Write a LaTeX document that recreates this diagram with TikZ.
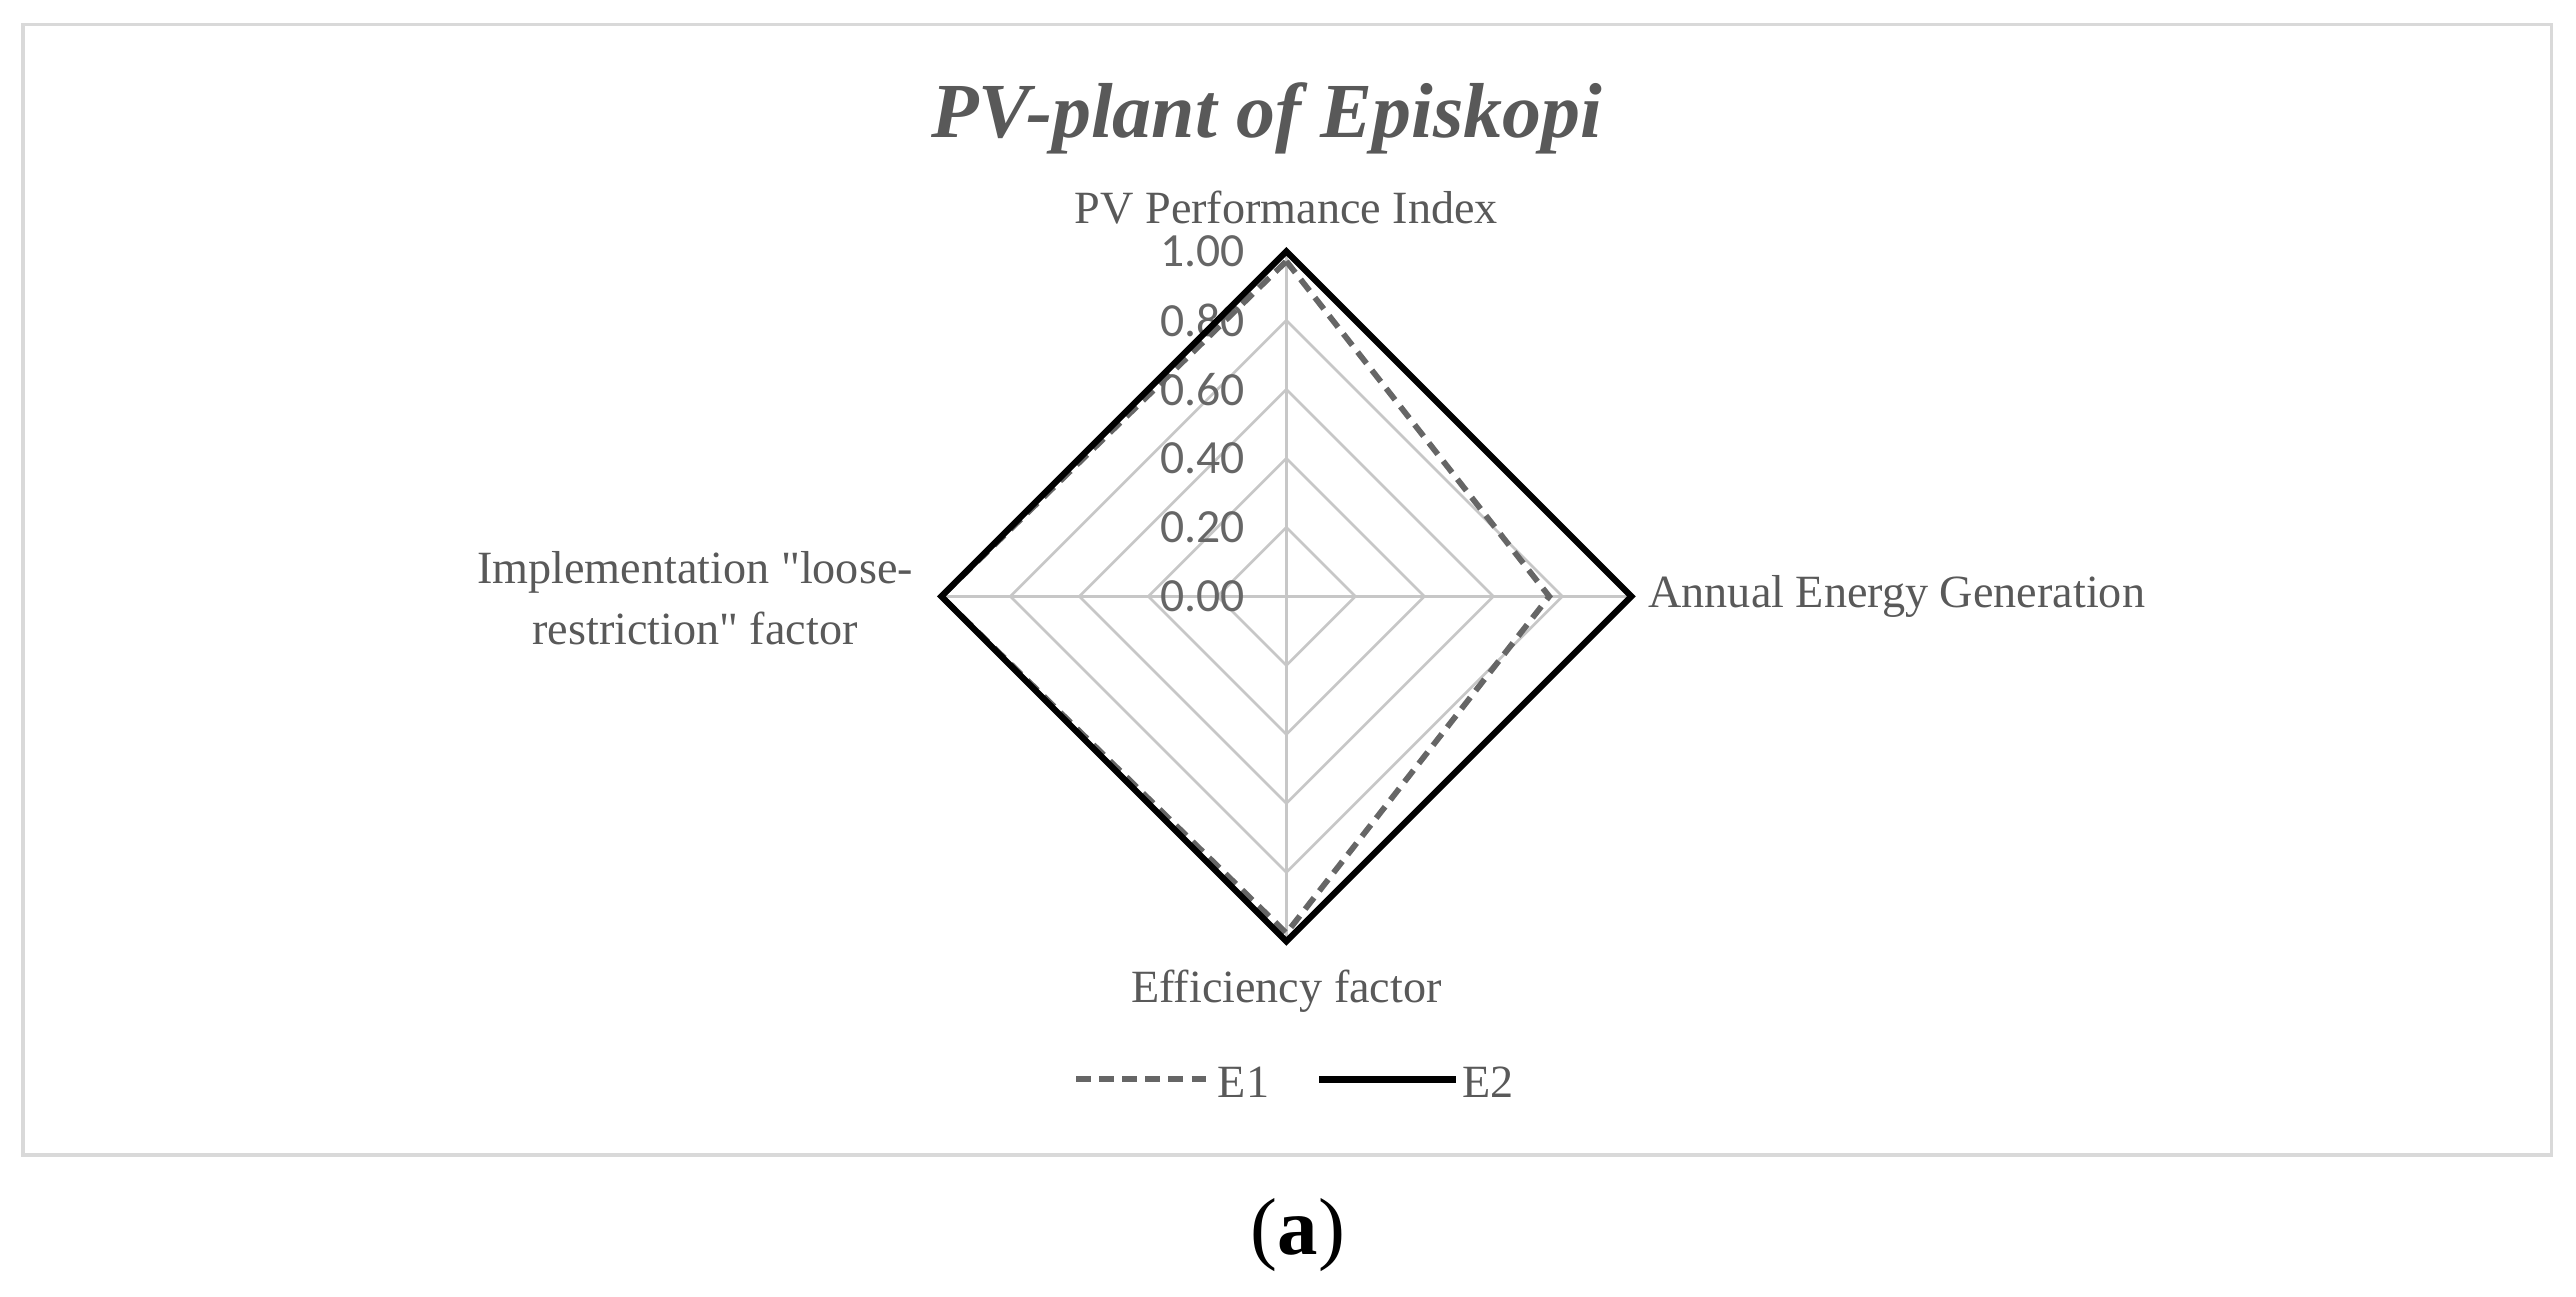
\documentclass[tikz,border=0pt]{standalone}
\usepackage{fontspec}
\setmainfont{Liberation Serif}
\newfontfamily\qfont{Liberation Serif}
\newfontfamily\tickfont{Carlito}
\begin{document}
\begin{tikzpicture}[x=0.02cm,y=-0.02cm,
  lab/.style={text=black!65,font=\fontsize{16pt}{18pt}\selectfont,inner sep=0pt},
  tick/.style={text=black!60,font=\tickfont\fontsize{16.5pt}{18pt}\selectfont,anchor=east,inner sep=0pt},
  grid/.style={draw=black!22,line width=0.9pt},
  eone/.style={draw=black!60,dashed,dash pattern=on 5pt off 3pt,line width=2pt},
  etwo/.style={draw=black,line width=2.2pt,line join=miter}]
\useasboundingbox (0,0) rectangle (1568,789);
\draw[draw=black!15,line width=1.2pt] (14,15) rectangle (1553,703);
\node[text=black!65,font=\fontsize{27pt}{30pt}\selectfont\bfseries\itshape] (title) at (771,72) {PV-plant of Episkopi};
\coordinate (c) at (783,363);
\foreach \r in {42,84,126,168,210}{
  \draw[grid] (783,363-\r) -- (783+\r,363) -- (783,363+\r) -- (783-\r,363) -- cycle;}
\draw[grid] (783,153) -- (783,573) (573,363) -- (993,363);
\foreach \v/\t in {0/0.00,1/0.20,2/0.40,3/0.60,4/0.80,5/1.00}{
  \node[tick] (t\v) at (758,363-42*\v) {\t};}
\draw[eone] (783,159) -- (943,363) -- (783,568) -- (573,363) -- cycle;
\draw[etwo] (783,153) -- (993,363) -- (783,573) -- (573,363) -- cycle;
\node[lab,anchor=south] (a1) at (783,137) {PV Performance Index};
\node[lab,anchor=west] (a2) at (1003,363) {Annual Energy Generation};
\node[lab,anchor=north] (a3) at (783,590) {Efficiency factor};
\node[lab,anchor=east,align=center] (a4) at (556,364) {Implementation {\qfont"}loose-\\[3pt]restriction{\qfont"} factor};
\coordinate (l1a) at (655,657); \coordinate (l1b) at (738,657);
\coordinate (l2a) at (803,657); \coordinate (l2b) at (886,657);
\draw[eone] (l1a) -- (l1b);
\draw[etwo] (l2a) -- (l2b);
\node[lab,anchor=west] (e1) at (741,659) {E1};
\node[lab,anchor=west] (e2) at (890,659) {E2};
\node[font=\fontsize{28pt}{30pt}\selectfont] (cap) at (790,752) {(\textbf{a})};
\end{tikzpicture}
\end{document}
